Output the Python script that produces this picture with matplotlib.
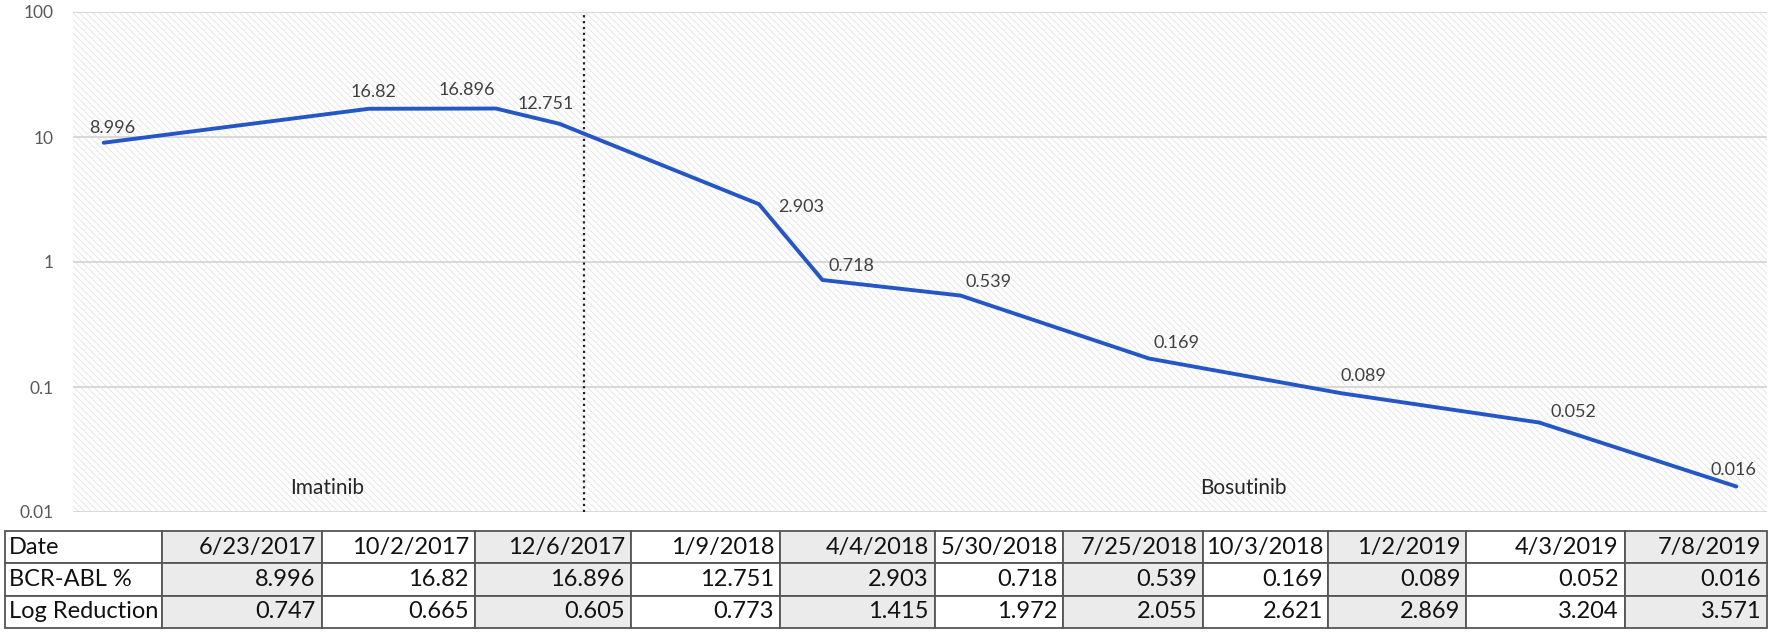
import matplotlib
matplotlib.use("Agg")
import matplotlib.pyplot as plt
import matplotlib.transforms as mtransforms
from matplotlib.patches import Rectangle

plt.rcParams['font.family'] = ['Lato', 'DejaVu Sans']
plt.rcParams['hatch.color'] = '#e2e2e2'
plt.rcParams['hatch.linewidth'] = 0.6

# data
dates = ['6/23/2017', '10/2/2017', '12/6/2017', '1/9/2018', '4/4/2018', '5/30/2018',
         '7/25/2018', '10/3/2018', '1/2/2019', '4/3/2019', '7/8/2019']
bcr_abl = [8.996, 16.82, 16.896, 12.751, 2.903, 0.718, 0.539, 0.169, 0.089, 0.052, 0.016]
log_red = ['0.747', '0.665', '0.605', '0.773', '1.415', '1.972', '2.055', '2.621',
           '2.869', '3.204', '3.571']
bcr_txt = ['8.996', '16.82', '16.896', '12.751', '2.903', '0.718', '0.539', '0.169',
           '0.089', '0.052', '0.016']
# horizontal position of each test on the chart (days from first)
x_days = [0, 121, 179, 208, 299, 328, 391, 477, 565, 655, 745]
switch_day = 219  # imatinib -> bosutinib

# label offsets in pixels (dx, dy)
lab_off = [(9, 15), (5, 17), (-29, 19), (-14, 20), (42, -3), (29, 14),
           (28, 14), (27, 16), (22, 17), (34, 10), (-3, 16)]

fig = plt.figure(figsize=(17.72, 6.34), dpi=100)
ax = fig.add_axes([73/1772, 122/634, 1694/1772, 500/634])

ax.add_patch(Rectangle((0, 0), 1, 1, transform=ax.transAxes, facecolor='white',
                       hatch='\\\\\\\\\\', linewidth=0, zorder=0))

ax.set_yscale('log')
ax.set_ylim(0.01, 100)
ax.set_xlim(-14, 759)
ax.set_yticks([0.01, 0.1, 1, 10, 100])
ax.set_yticklabels(['0.01', '0.1', '1', '10', '100'])
ax.minorticks_off()
ax.set_xticks([])
ax.tick_params(axis='y', length=0, pad=14, labelsize=12.5, labelcolor='#595959')
for s in ax.spines.values():
    s.set_visible(False)
ax.yaxis.grid(True, color='#d6d6d6', linewidth=1.3, zorder=1)
ax.set_axisbelow(True)

ax.plot(x_days, bcr_abl, color='#2457c5', linewidth=2.8, zorder=3, solid_capstyle='round')
ax.axvline(switch_day, color='#222222', linestyle=':', linewidth=1.6, zorder=2)

for x, y, t, (dx, dy) in zip(x_days, bcr_abl, bcr_txt, lab_off):
    ax.annotate(t, (x, y), xytext=(dx, dy), textcoords='offset pixels',
                ha='center', va='center', fontsize=13, color='#404040', zorder=4)

trans = mtransforms.blended_transform_factory(ax.transData, ax.transAxes)
ax.text(102, 0.048, 'Imatinib', transform=trans, ha='center', va='center',
        fontsize=15, color='#262626')
ax.text(520, 0.048, 'Bosutinib', transform=trans, ha='center', va='center',
        fontsize=15, color='#262626')

# table
tax = fig.add_axes([5/1772, 6/634, 1762/1772, 97/634])
tax.axis('off')
rows = [['Date'] + dates, ['BCR-ABL %'] + bcr_txt, ['Log Reduction'] + log_red]
col_w = [157, 160, 153, 156, 149, 155, 128, 140, 125, 138, 159, 142]
tbl = tax.table(cellText=rows, colWidths=[w / sum(col_w) for w in col_w],
                cellLoc='right', bbox=[0, 0, 1, 1])
tbl.auto_set_font_size(False)
tbl.set_fontsize(17)
for (r, c), cell in tbl.get_celld().items():
    cell.set_edgecolor('#555555')
    cell.set_linewidth(1.3)
    cell.PAD = 0.04
    if c == 0:
        cell._loc = 'left'
        cell.get_text().set_horizontalalignment('left')
        cell.PAD = 0.025
        cell.set_facecolor('white')
    elif c % 2 == 1:
        cell.set_facecolor('#ebebeb')
    else:
        cell.set_facecolor('white')
    cell.get_text().set_color('#111111')

fig.savefig('out.png', dpi=100)
